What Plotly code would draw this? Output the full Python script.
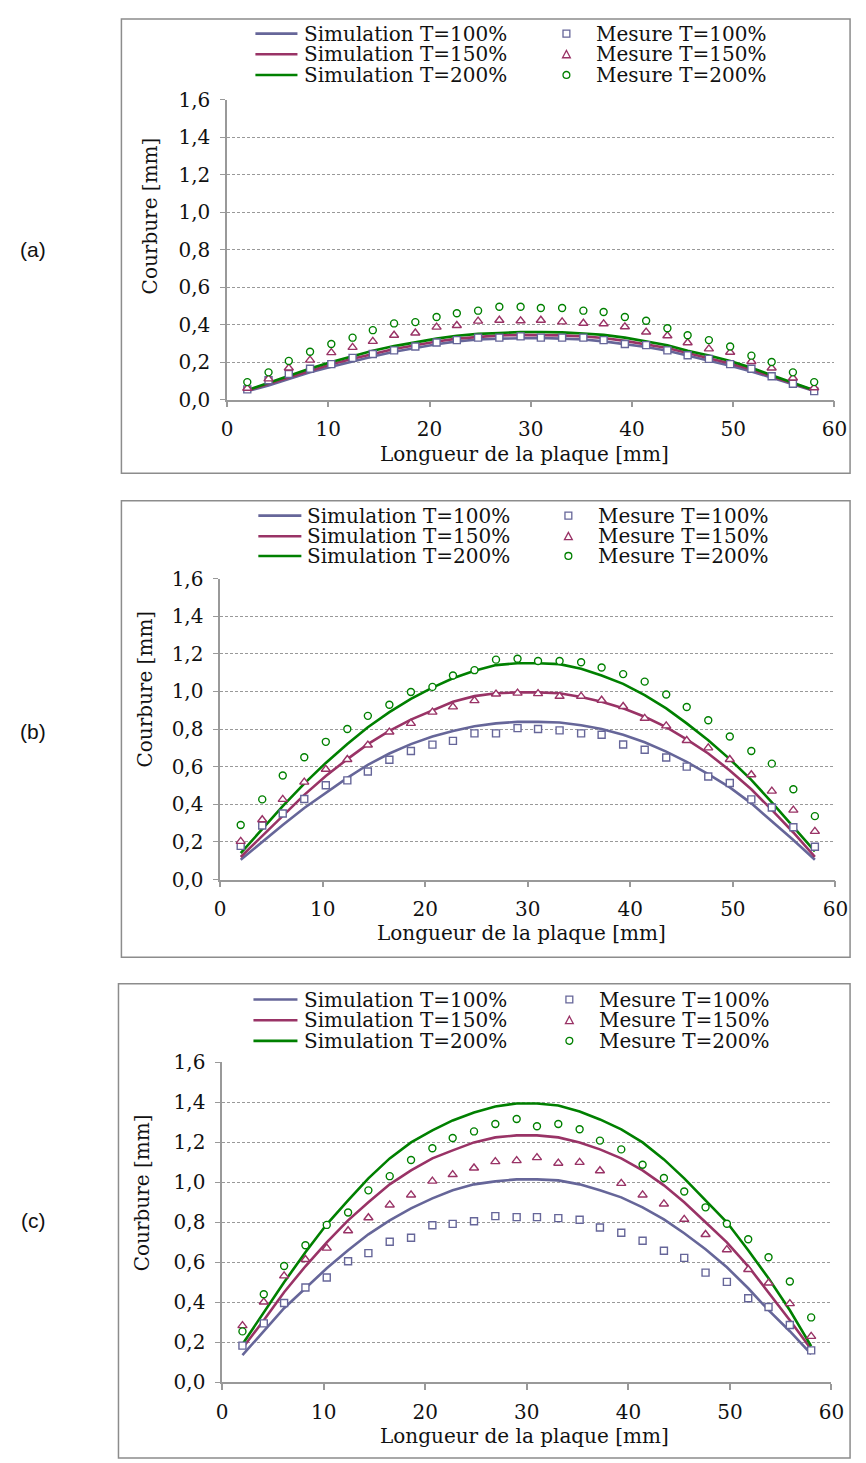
import plotly.graph_objects as go

W, H = 866, 1463

# positions des mesures le long de la plaque [mm]
x_pos = [2.0, 4.1, 6.1, 8.2, 10.3, 12.4, 14.4, 16.5, 18.6, 20.7, 22.7, 24.8, 26.9, 29.0,
         31.0, 33.1, 35.2, 37.2, 39.3, 41.4, 43.5, 45.5, 47.6, 49.7, 51.8, 53.8, 55.9, 58.0]

# (a)
sim100_a = [0.045, 0.075, 0.11, 0.145, 0.175, 0.205, 0.23, 0.255, 0.275, 0.295, 0.31, 0.32, 0.325, 0.328,
            0.328, 0.325, 0.32, 0.31, 0.295, 0.28, 0.26, 0.235, 0.21, 0.18, 0.15, 0.115, 0.08, 0.045]
sim150_a = [0.048, 0.083, 0.118, 0.155, 0.188, 0.218, 0.245, 0.27, 0.29, 0.31, 0.325, 0.335, 0.342, 0.345,
            0.345, 0.342, 0.337, 0.328, 0.313, 0.296, 0.275, 0.248, 0.222, 0.192, 0.16, 0.122, 0.085, 0.048]
sim200_a = [0.05, 0.09, 0.125, 0.165, 0.2, 0.23, 0.26, 0.285, 0.305, 0.325, 0.34, 0.35, 0.355, 0.36,
            0.36, 0.358, 0.352, 0.345, 0.33, 0.31, 0.29, 0.26, 0.235, 0.205, 0.17, 0.13, 0.09, 0.05]
mes100_a = [0.054, 0.103, 0.136, 0.164, 0.189, 0.222, 0.243, 0.262, 0.283, 0.304, 0.317, 0.33, 0.33, 0.337,
            0.33, 0.33, 0.33, 0.317, 0.296, 0.29, 0.262, 0.236, 0.217, 0.189, 0.164, 0.124, 0.084, 0.045]
mes150_a = [0.06, 0.11, 0.168, 0.21, 0.25, 0.278, 0.31, 0.343, 0.355, 0.386, 0.395, 0.418, 0.423, 0.42,
            0.423, 0.414, 0.407, 0.404, 0.388, 0.36, 0.34, 0.303, 0.27, 0.252, 0.203, 0.168, 0.115, 0.063]
mes200_a = [0.093, 0.145, 0.206, 0.255, 0.296, 0.33, 0.37, 0.406, 0.413, 0.44, 0.46, 0.474, 0.495, 0.495,
            0.488, 0.488, 0.474, 0.467, 0.44, 0.42, 0.38, 0.343, 0.317, 0.283, 0.234, 0.2, 0.145, 0.093]

# (b)
sim100_b = [0.105, 0.2, 0.29, 0.38, 0.46, 0.54, 0.61, 0.67, 0.72, 0.76, 0.79, 0.815, 0.83, 0.838,
            0.838, 0.835, 0.82, 0.8, 0.77, 0.73, 0.68, 0.625, 0.56, 0.49, 0.405, 0.31, 0.21, 0.105]
sim150_b = [0.12, 0.23, 0.34, 0.45, 0.55, 0.64, 0.72, 0.79, 0.85, 0.9, 0.945, 0.975, 0.99, 0.995,
            0.995, 0.99, 0.97, 0.945, 0.91, 0.865, 0.81, 0.745, 0.67, 0.58, 0.48, 0.37, 0.25, 0.12]
sim200_b = [0.14, 0.27, 0.39, 0.51, 0.62, 0.72, 0.81, 0.89, 0.96, 1.02, 1.07, 1.11, 1.14, 1.15,
            1.15, 1.145, 1.12, 1.085, 1.04, 0.98, 0.91, 0.83, 0.74, 0.64, 0.53, 0.41, 0.28, 0.15]
mes100_b = [0.179, 0.287, 0.351, 0.428, 0.501, 0.527, 0.574, 0.637, 0.683, 0.717, 0.737, 0.777, 0.777, 0.805,
            0.8, 0.793, 0.777, 0.77, 0.718, 0.69, 0.649, 0.6, 0.548, 0.513, 0.426, 0.383, 0.278, 0.174]
mes150_b = [0.203, 0.318, 0.426, 0.518, 0.586, 0.638, 0.715, 0.784, 0.83, 0.89, 0.918, 0.951, 0.986, 0.991,
            0.988, 0.974, 0.974, 0.953, 0.92, 0.857, 0.817, 0.739, 0.7, 0.638, 0.557, 0.47, 0.369, 0.256]
mes200_b = [0.29, 0.426, 0.553, 0.65, 0.732, 0.8, 0.87, 0.929, 0.997, 1.024, 1.085, 1.113, 1.169, 1.174,
            1.162, 1.162, 1.155, 1.127, 1.092, 1.052, 0.984, 0.917, 0.847, 0.76, 0.683, 0.616, 0.48, 0.337]

# (c)
sim100_c = [0.135, 0.255, 0.37, 0.47, 0.57, 0.66, 0.74, 0.81, 0.87, 0.92, 0.96, 0.99, 1.005, 1.015,
            1.015, 1.01, 0.99, 0.96, 0.925, 0.875, 0.815, 0.745, 0.665, 0.575, 0.47, 0.36, 0.255, 0.14]
sim150_c = [0.17, 0.31, 0.45, 0.58, 0.7, 0.81, 0.9, 0.99, 1.06, 1.12, 1.16, 1.2, 1.225, 1.235,
            1.235, 1.225, 1.2, 1.165, 1.12, 1.06, 0.985, 0.9, 0.8, 0.7, 0.58, 0.45, 0.31, 0.165]
sim200_c = [0.19, 0.35, 0.5, 0.65, 0.79, 0.91, 1.02, 1.12, 1.2, 1.26, 1.31, 1.35, 1.38, 1.395,
            1.395, 1.385, 1.355, 1.315, 1.265, 1.2, 1.115, 1.02, 0.91, 0.8, 0.66, 0.52, 0.36, 0.18]
mes100_c = [0.183, 0.294, 0.396, 0.474, 0.524, 0.605, 0.646, 0.703, 0.723, 0.785, 0.792, 0.805, 0.831, 0.826,
            0.826, 0.821, 0.813, 0.774, 0.748, 0.708, 0.658, 0.622, 0.548, 0.502, 0.42, 0.376, 0.286, 0.159]
mes150_c = [0.283, 0.401, 0.532, 0.614, 0.671, 0.758, 0.823, 0.887, 0.937, 1.006, 1.039, 1.072, 1.104, 1.109,
            1.124, 1.096, 1.1, 1.058, 0.995, 0.937, 0.892, 0.815, 0.739, 0.663, 0.564, 0.496, 0.393, 0.229]
mes200_c = [0.254, 0.44, 0.581, 0.685, 0.787, 0.849, 0.96, 1.031, 1.112, 1.171, 1.222, 1.255, 1.292, 1.317,
            1.281, 1.292, 1.266, 1.209, 1.165, 1.088, 1.022, 0.954, 0.875, 0.793, 0.715, 0.625, 0.504, 0.324]

panel_labels = ["(a)", "(b)", "(c)"]
sim_names = ["Simulation T=100%", "Simulation T=150%", "Simulation T=200%"]
mes_names = ["Mesure T=100%", "Mesure T=150%", "Mesure T=200%"]

COLORS = ["#666699", "#993366", "#008000"]
SYMBOLS = ["square", "triangle-up", "circle"]
SERIF = "DejaVu Serif"
TXT = "#111111"
GRAY = "#999999"

# mise en page des trois panneaux (pixels)
PANELS = [
    dict(sim=[sim100_a, sim150_a, sim200_a], mes=[mes100_a, mes150_a, mes200_a],
         x0=226, x1=847, ytop=89, ybot=394, box=(118, 7, 863, 469),
         leg_rows=(22, 43, 64), leg_line=(255, 298), leg_txt=303, leg_mk=573, leg_mtxt=601,
         xtitle=(530, 449), ytitle=(147, 207), lab=(28, 241)),
    dict(sim=[sim100_b, sim150_b, sim200_b], mes=[mes100_b, mes150_b, mes200_b],
         x0=219, x1=848, ytop=576, ybot=882, box=(118, 497, 863, 961),
         leg_rows=(512, 533, 553), leg_line=(258, 302), leg_txt=306, leg_mk=575, leg_mtxt=603,
         xtitle=(527, 936), ytitle=(142, 688), lab=(28, 731)),
    dict(sim=[sim100_c, sim150_c, sim200_c], mes=[mes100_c, mes150_c, mes200_c],
         x0=221, x1=844, ytop=1068, ybot=1393, box=(115, 988, 863, 1470),
         leg_rows=(1004, 1025, 1046), leg_line=(253, 298), leg_txt=303, leg_mk=576, leg_mtxt=604,
         xtitle=(530, 1448), ytitle=(139, 1200), lab=(28, 1229)),
]


def px(x):
    return x / W


def py(y):
    return 1 - y / H


fig = go.Figure()
shapes, annotations = [], []

for k, p in enumerate(PANELS):
    sfx = "" if k == 0 else str(k + 1)
    xa, ya = "x" + sfx, "y" + sfx

    for i in range(3):
        fig.add_trace(go.Scatter(
            x=x_pos, y=p["sim"][i], mode="lines", name=sim_names[i],
            line=dict(color=COLORS[i], width=2.6), xaxis=xa, yaxis=ya, showlegend=False,
        ))
    for i in range(3):
        fig.add_trace(go.Scatter(
            x=x_pos, y=p["mes"][i], mode="markers", name=mes_names[i],
            marker=dict(symbol=SYMBOLS[i], size=8 if i == 1 else 7, color="white",
                        line=dict(color=COLORS[i], width=1.4)),
            xaxis=xa, yaxis=ya, showlegend=False,
        ))

    common_x = dict(
        domain=[px(p["x0"]), px(p["x1"])], range=[0, 60], tickvals=[0, 10, 20, 30, 40, 50, 60],
        showgrid=False, zeroline=False, showline=True, linecolor=GRAY, linewidth=1.5,
        ticks="outside", ticklen=6, tickcolor=GRAY, tickwidth=1.5,
        tickfont=dict(family=SERIF, size=20, color=TXT), ticklabelstandoff=5,
        anchor=ya, fixedrange=True,
    )
    common_y = dict(
        domain=[py(p["ybot"]), py(p["ytop"])], range=[0, 1.6], tickvals=[0, 0.2, 0.4, 0.6, 0.8, 1.0, 1.2, 1.4, 1.6],
        tickformat=".1f", showgrid=True, gridcolor=GRAY, gridwidth=1, griddash="3px,2px",
        zeroline=False, showline=True, linecolor=GRAY, linewidth=1.5,
        ticks="outside", ticklen=5, tickcolor=GRAY,
        tickfont=dict(family=SERIF, size=20, color=TXT), ticklabelstandoff=6,
        anchor=xa, fixedrange=True,
    )
    fig.update_layout({"xaxis" + sfx: common_x, "yaxis" + sfx: common_y})

    # cadre du panneau
    bx0, by0, bx1, by1 = p["box"]
    shapes.append(dict(type="rect", xref="paper", yref="paper",
                       x0=px(bx0), x1=px(bx1), y0=py(by1), y1=py(by0),
                       line=dict(color="#8c8c8c", width=1.5), layer="below"))

    # légende
    for i in range(3):
        yr = p["leg_rows"][i]
        shapes.append(dict(type="line", xref="paper", yref="paper",
                           x0=px(p["leg_line"][0]), x1=px(p["leg_line"][1]), y0=py(yr), y1=py(yr),
                           line=dict(color=COLORS[i], width=2.6)))
        annotations.append(dict(text=sim_names[i], x=px(p["leg_txt"]), y=py(yr), xref="paper", yref="paper",
                                xanchor="left", yanchor="middle", showarrow=False,
                                font=dict(family=SERIF, size=20, color=TXT)))
        annotations.append(dict(text=mes_names[i], x=px(p["leg_mtxt"]), y=py(yr), xref="paper", yref="paper",
                                xanchor="left", yanchor="middle", showarrow=False,
                                font=dict(family=SERIF, size=20, color=TXT)))
        cx, r = p["leg_mk"], 3.5
        mk_line = dict(color=COLORS[i], width=1.3)
        if i == 0:
            shapes.append(dict(type="rect", xref="paper", yref="paper",
                               x0=px(cx - r), x1=px(cx + r), y0=py(yr + r), y1=py(yr - r), line=mk_line))
        elif i == 1:
            path = "M {} {} L {} {} L {} {} Z".format(px(cx - 4), py(yr + 3.5), px(cx + 4), py(yr + 3.5),
                                                     px(cx), py(yr - 4))
            shapes.append(dict(type="path", xref="paper", yref="paper", path=path, line=mk_line))
        else:
            shapes.append(dict(type="circle", xref="paper", yref="paper",
                               x0=px(cx - r), x1=px(cx + r), y0=py(yr + r), y1=py(yr - r), line=mk_line))

    # titres des axes et étiquette du panneau
    annotations.append(dict(text="Longueur de la plaque [mm]", x=px(p["xtitle"][0]), y=py(p["xtitle"][1]),
                            xref="paper", yref="paper", showarrow=False, xanchor="center", yanchor="middle",
                            font=dict(family=SERIF, size=20, color=TXT)))
    annotations.append(dict(text="Courbure [mm]", x=px(p["ytitle"][0]), y=py(p["ytitle"][1]), textangle=-90,
                            xref="paper", yref="paper", showarrow=False, xanchor="center", yanchor="middle",
                            font=dict(family=SERIF, size=20, color=TXT)))
    annotations.append(dict(text=panel_labels[k], x=px(p["lab"][0]), y=py(p["lab"][1]),
                            xref="paper", yref="paper", showarrow=False, xanchor="center", yanchor="middle",
                            font=dict(family="Liberation Sans, Arial", size=21, color=TXT)))

fig.update_layout(
    width=W, height=H, autosize=False,
    margin=dict(l=0, r=0, t=0, b=0),
    paper_bgcolor="white", plot_bgcolor="white",
    separators=", ",
    showlegend=False,
    shapes=shapes, annotations=annotations,
)

# pas de marge de page, pour que la figure remplisse exactement la fenêtre
fig.write_html("out.html", config={"displayModeBar": False},
               post_script="document.body.style.margin='0';document.body.style.overflow='hidden';")
